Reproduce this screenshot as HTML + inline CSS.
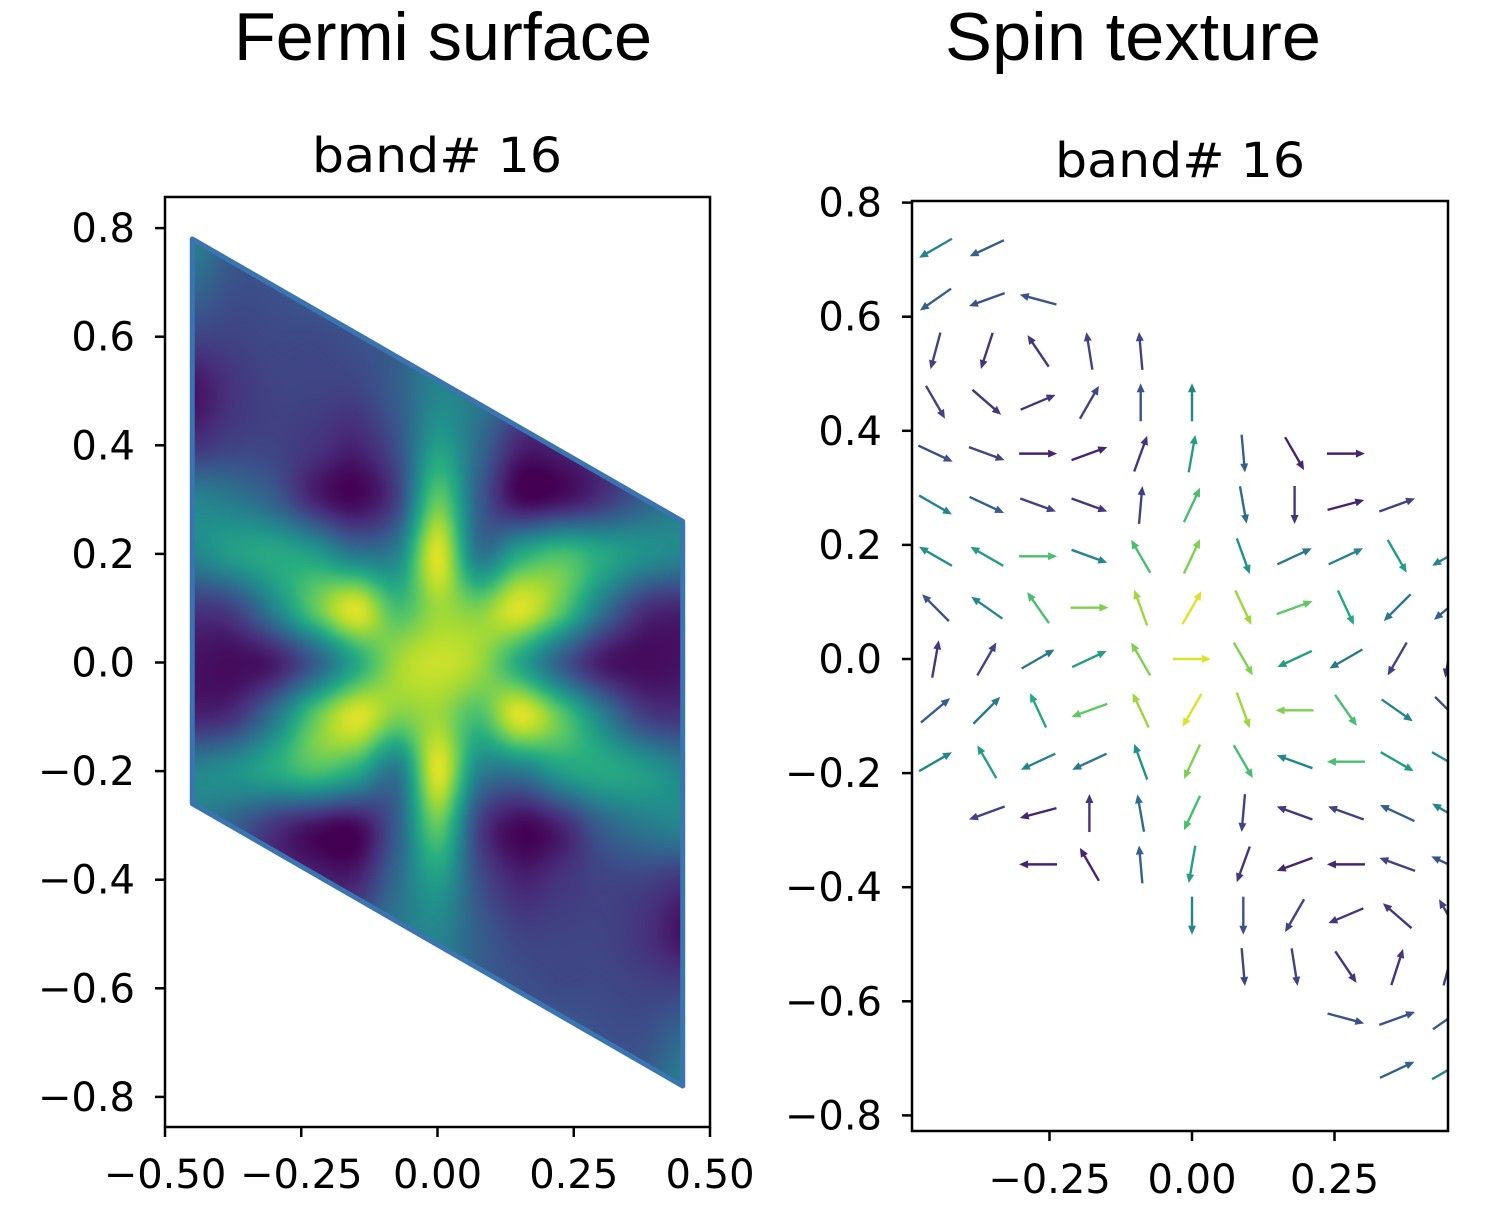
<!DOCTYPE html>
<html><head><meta charset="utf-8"><style>
html,body{margin:0;padding:0;background:#fff;width:1486px;height:1226px;overflow:hidden}
#wrap{position:relative;width:1486px;height:1226px}
canvas{position:absolute}
svg{position:absolute;left:0;top:0}
text{font-family:"DejaVu Sans","Liberation Sans",sans-serif;fill:#000}
</style></head><body>
<div id="wrap">
<canvas id="heat" width="545" height="930" style="left:165px;top:197px"></canvas>
<svg id="svg" width="1486" height="1226">
<defs><clipPath id="rclip"><rect x="912" y="201" width="536" height="930"/></clipPath></defs>
<text x="443" y="60" font-size="68" text-anchor="middle" textLength="418" lengthAdjust="spacingAndGlyphs" style='font-family:"Liberation Sans",sans-serif'>Fermi surface</text>
<text x="1133" y="60" font-size="68" text-anchor="middle" textLength="376" lengthAdjust="spacingAndGlyphs" style='font-family:"Liberation Sans",sans-serif'>Spin texture</text>
<text x="437" y="172" font-size="48" text-anchor="middle" textLength="250" lengthAdjust="spacingAndGlyphs">band# 16</text>
<text x="1180" y="177" font-size="48" text-anchor="middle" textLength="250" lengthAdjust="spacingAndGlyphs">band# 16</text>
<g id="leftAxes"></g>
<g id="arrows" clip-path="url(#rclip)"></g>
<g id="rightAxes"></g>
</svg>
</div>
<script>
// ---------- data ----------
const heatXs = [-0.45,-0.375,-0.3,-0.225,-0.15,-0.075,0,0.075,0.15,0.225,0.3,0.375,0.45];
const heatYs = [0.8,0.7,0.6,0.5,0.4,0.3,0.2,0.1,0,-0.1,-0.2,-0.3,-0.4,-0.5,-0.6,-0.7,-0.8];
const heatRows = [
 [0.45,0.3,0.28,0.3,0.3,0.35,0.45,0.35,0.3,0.25,0.25,0.25,0.25],
 [0.35,0.25,0.25,0.3,0.3,0.35,0.45,0.35,0.3,0.25,0.25,0.25,0.25],
 [0.2,0.2,0.22,0.22,0.25,0.3,0.45,0.35,0.3,0.25,0.25,0.25,0.25],
 [0.05,0.15,0.2,0.2,0.2,0.3,0.45,0.4,0.3,0.2,0.2,0.2,0.2],
 [0.15,0.2,0.2,0.15,0.1,0.25,0.55,0.35,0.1,0.1,0.15,0.2,0.2],
 [0.45,0.4,0.3,0.1,0.02,0.2,0.75,0.3,0.03,0.05,0.15,0.3,0.4],
 [0.45,0.55,0.6,0.55,0.4,0.45,0.95,0.4,0.6,0.7,0.6,0.5,0.45],
 [0.15,0.2,0.45,0.75,0.95,0.7,0.85,0.8,0.95,0.75,0.4,0.15,0.1],
 [0.05,0.03,0.08,0.3,0.6,0.85,0.92,0.85,0.6,0.3,0.08,0.03,0.05],
 [0.1,0.15,0.4,0.75,0.95,0.8,0.85,0.7,0.95,0.75,0.45,0.2,0.15],
 [0.45,0.5,0.6,0.7,0.6,0.4,0.95,0.45,0.4,0.55,0.6,0.55,0.45],
 [0.4,0.3,0.15,0.05,0.03,0.3,0.75,0.2,0.02,0.1,0.3,0.4,0.45],
 [0.2,0.2,0.15,0.1,0.1,0.35,0.55,0.25,0.1,0.15,0.2,0.2,0.15],
 [0.2,0.2,0.2,0.2,0.3,0.4,0.45,0.3,0.2,0.2,0.2,0.15,0.05],
 [0.25,0.25,0.25,0.25,0.3,0.35,0.45,0.3,0.25,0.22,0.22,0.2,0.2],
 [0.25,0.25,0.25,0.25,0.3,0.35,0.45,0.35,0.3,0.3,0.25,0.25,0.35],
 [0.25,0.25,0.25,0.25,0.3,0.35,0.45,0.35,0.3,0.3,0.28,0.3,0.45]
];
const zoneX = [-0.45,0.45,0.45,-0.45];
const zoneY = [0.78,0.26,-0.78,-0.26];
const leftXTicks = [-0.5,-0.25,0,0.25,0.5];
const leftXLabels = ["\u22120.50","\u22120.25","0.00","0.25","0.50"];
const yTicks = [0.8,0.6,0.4,0.2,0,-0.2,-0.4,-0.6,-0.8];
const yLabels = ["0.8","0.6","0.4","0.2","0.0","\u22120.2","\u22120.4","\u22120.6","\u22120.8"];
const rightXTicks = [-0.25,0,0.25];
const rightXLabels = ["\u22120.25","0.00","0.25"];
const spinXs = [-0.45,-0.36,-0.27,-0.18,-0.09,0,0.09,0.18,0.27,0.36,0.45];
const spinYs = [0.72,0.63,0.54,0.45,0.36,0.27,0.18,0.09,0,-0.09,-0.18,-0.27,-0.36,-0.45,-0.54,-0.63,-0.72];
const n = null;
const spinAngles = [
 [210,205,n,n,n,n,n,n,n,n,n],
 [215,200,165,n,n,n,n,n,n,n,n],
 [255,252,124,99,95,n,n,n,n,n,n],
 [300,319,23,60,90,90,n,n,n,n,n],
 [335,340,0,20,70,80,275,300,0,n,n],
 [330,335,340,340,85,65,280,270,15,20,n],
 [150,150,0,340,120,65,290,25,25,300,210],
 [135,145,125,0,110,60,295,20,295,225,220],
 [80,60,30,25,120,0,300,205,210,240,260],
 [40,45,115,200,115,240,290,180,305,325,315],
 [30,120,205,205,110,245,300,160,180,330,330],
 [n,200,195,90,100,245,265,160,160,155,150],
 [n,n,180,120,95,260,250,200,180,160,155],
 [n,n,n,n,n,270,270,240,203,139,120],
 [n,n,n,n,n,n,275,279,304,72,75],
 [n,n,n,n,n,n,n,n,345,20,35],
 [n,n,n,n,n,n,n,n,n,25,30]
];
const spinColors = [
 [0.45,0.3,n,n,n,n,n,n,n,n,n],
 [0.3,0.25,0.25,n,n,n,n,n,n,n,n],
 [0.2,0.15,0.15,0.2,0.2,n,n,n,n,n,n],
 [0.2,0.15,0.15,0.2,0.25,0.45,n,n,n,n,n],
 [0.25,0.2,0.1,0.1,0.15,0.55,0.3,0.1,0.1,n,n],
 [0.45,0.3,0.2,0.15,0.2,0.7,0.35,0.15,0.1,0.2,n],
 [0.5,0.55,0.7,0.45,0.7,0.8,0.5,0.4,0.45,0.55,0.45],
 [0.25,0.45,0.7,0.8,0.85,0.95,0.85,0.75,0.6,0.4,0.3],
 [0.15,0.2,0.4,0.55,0.8,0.95,0.8,0.55,0.4,0.2,0.15],
 [0.3,0.4,0.6,0.75,0.85,0.95,0.85,0.8,0.7,0.45,0.25],
 [0.45,0.55,0.45,0.4,0.5,0.8,0.7,0.45,0.7,0.55,0.5],
 [n,0.2,0.1,0.15,0.35,0.7,0.2,0.15,0.2,0.3,0.45],
 [n,n,0.1,0.1,0.3,0.55,0.15,0.1,0.1,0.2,0.25],
 [n,n,n,n,n,0.45,0.25,0.2,0.15,0.15,0.2],
 [n,n,n,n,n,n,0.2,0.2,0.15,0.15,0.2],
 [n,n,n,n,n,n,n,n,0.25,0.25,0.3],
 [n,n,n,n,n,n,n,n,n,0.3,0.45]
];

// ---------- scales ----------
const LX = x => 437.5 + x*545, LY = y => 662.5 - y*543;
const RX = x => 1192 + x*570, RY = y => 659 - y*570.5;
const NS = "http://www.w3.org/2000/svg";
const vir = [[68,1,84],[71,45,123],[59,82,139],[44,114,142],[33,145,140],[40,174,128],[94,201,98],[173,220,48],[253,231,37]];
function viridis(t){t=Math.max(0,Math.min(1,t));const f=t*8,i=Math.min(7,Math.floor(f)),r=f-i;
 return vir[i].map((c,k)=>Math.round(c+(vir[i+1][k]-c)*r));}
function mk(tag,attrs,parent){const e=document.createElementNS(NS,tag);for(const k in attrs)e.setAttribute(k,attrs[k]);parent.appendChild(e);return e;}

// ---------- heatmap (bicubic resampling of the grid) ----------
(function(){
 const cv=document.getElementById('heat'),ctx=cv.getContext('2d');
 const img=ctx.createImageData(545,930);
 const nx=heatXs.length,ny=heatYs.length;
 const dx=heatXs[1]-heatXs[0], dy=heatYs[0]-heatYs[1];
 const G=(j,i)=>heatRows[Math.max(0,Math.min(ny-1,j))][Math.max(0,Math.min(nx-1,i))];
 const cr=(p0,p1,p2,p3,t)=>p1+0.5*t*(p2-p0+t*(2*p0-5*p1+4*p2-p3+t*(3*(p1-p2)+p3-p0)));
 for(let py=0;py<930;py++){
  const y=(662.5-(197+py))/543;
  let fy=(heatYs[0]-y)/dy; fy=Math.max(0,Math.min(ny-1.0001,fy));
  const j=Math.floor(fy),ry=fy-j;
  for(let px=0;px<545;px++){
   const x=(165+px-437.5)/545;
   let fx=(x-heatXs[0])/dx; fx=Math.max(0,Math.min(nx-1.0001,fx));
   const i=Math.floor(fx),rx=fx-i;
   const col=[];
   for(let m=-1;m<=2;m++)col.push(cr(G(j+m,i-1),G(j+m,i),G(j+m,i+1),G(j+m,i+2),rx));
   const v=cr(col[0],col[1],col[2],col[3],ry);
   const c=viridis(v),o=(py*545+px)*4;
   img.data[o]=c[0];img.data[o+1]=c[1];img.data[o+2]=c[2];img.data[o+3]=255;
  }
 }
 ctx.putImageData(img,0,0);
 ctx.globalCompositeOperation='destination-in';
 ctx.beginPath();
 zoneX.forEach((zx,k)=>{const X=LX(zx)-165,Y=LY(zoneY[k])-197;k?ctx.lineTo(X,Y):ctx.moveTo(X,Y);});
 ctx.closePath();ctx.fillStyle='#000';ctx.fill();
})();

// ---------- axes ----------
(function(){
 const g=document.getElementById('leftAxes');
 const pts=zoneX.map((zx,k)=>LX(zx)+','+LY(zoneY[k])).join(' ');
 const poly=mk('polygon',{points:pts,fill:'none',stroke:'#3b75af','stroke-width':5,'stroke-linejoin':'round'},g);
 
 
 const frame=mk('rect',{x:165,y:197,width:545,height:930,fill:'none',stroke:'#000','stroke-width':2.5},g);
 
 
 leftXTicks.forEach((t,k)=>{
  mk('line',{x1:LX(t),x2:LX(t),y1:1127,y2:1137,stroke:'#000','stroke-width':2.5},g);
  const tx=mk('text',{x:LX(t),y:1188,'font-size':40,'text-anchor':'middle'},g);tx.textContent=leftXLabels[k];
  
  
 });
 yTicks.forEach((t,k)=>{
  mk('line',{x1:155,x2:165,y1:LY(t),y2:LY(t),stroke:'#000','stroke-width':2.5},g);
  const tx=mk('text',{x:135,y:LY(t)+14,'font-size':40,'text-anchor':'end'},g);tx.textContent=yLabels[k];
  
  
 });
 const r=document.getElementById('rightAxes');
 const fr=mk('rect',{x:912,y:201,width:536,height:930,fill:'none',stroke:'#000','stroke-width':2.5},r);
 
 
 rightXTicks.forEach((t,k)=>{
  mk('line',{x1:RX(t),x2:RX(t),y1:1131,y2:1141,stroke:'#000','stroke-width':2.5},r);
  const tx=mk('text',{x:RX(t),y:1193,'font-size':40,'text-anchor':'middle'},r);tx.textContent=rightXLabels[k];
  
  
 });
 yTicks.forEach((t,k)=>{
  mk('line',{x1:902,x2:912,y1:RY(t),y2:RY(t),stroke:'#000','stroke-width':2.5},r);
  const tx=mk('text',{x:882,y:RY(t)+14,'font-size':40,'text-anchor':'end'},r);tx.textContent=yLabels[k];
  
  
 });
})();

// ---------- quiver ----------
(function(){
 const g=document.getElementById('arrows');
 const L=38;
 spinYs.forEach((sy,j)=>{
  spinXs.forEach((sx,i)=>{
   const a=spinAngles[j][i];
   if(a===null)return;
   const c=viridis(spinColors[j][i]),col=`rgb(${c[0]},${c[1]},${c[2]})`;
   const rad=a*Math.PI/180,ux=Math.cos(rad),uy=-Math.sin(rad);
   const x0=RX(sx)-ux*L/2,y0=RY(sy)-uy*L/2,x1=x0+ux*L,y1=y0+uy*L;
   const ar=mk('g',{},g);
   
   
   mk('line',{x1:x0,y1:y0,x2:x1-ux*6,y2:y1-uy*6,stroke:col,'stroke-width':2.4},ar);
   const px=-uy,py=ux;
   mk('polygon',{points:`${x1},${y1} ${x1-ux*9+px*4},${y1-uy*9+py*4} ${x1-ux*9-px*4},${y1-uy*9-py*4}`,fill:col},ar);
  });
 });
})();
</script>
</body></html>
